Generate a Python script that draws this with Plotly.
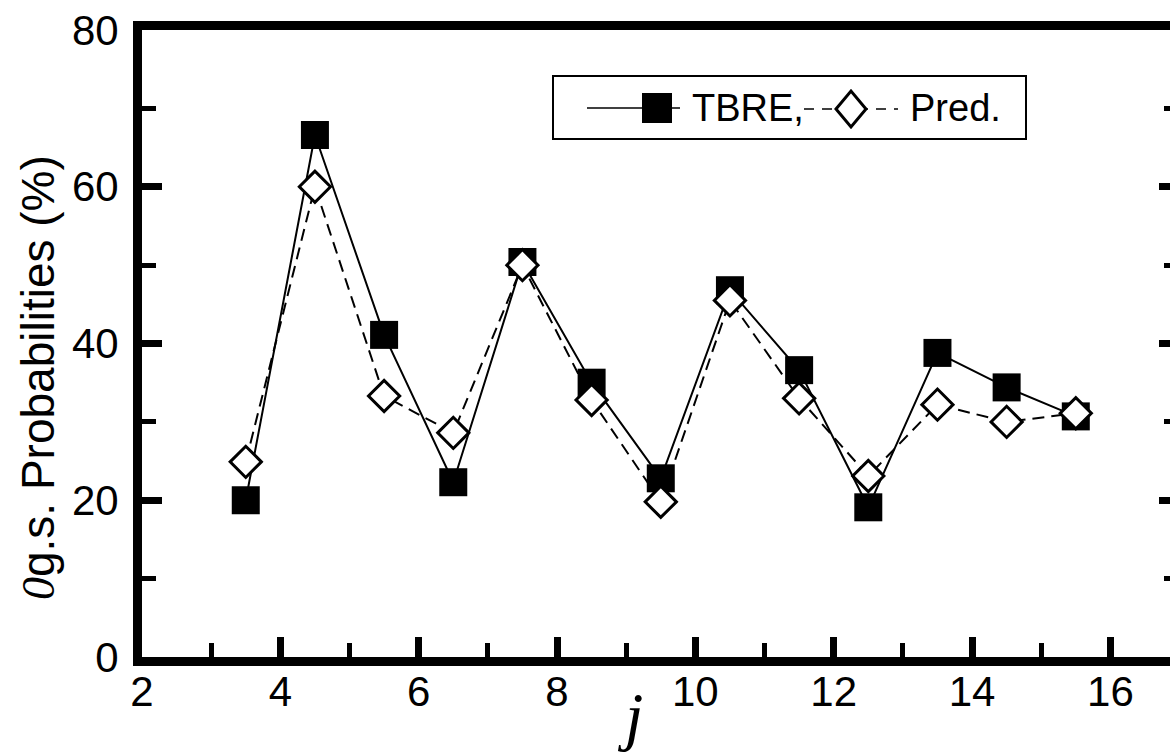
import plotly.graph_objects as go

# Angular momentum j and ground-state probabilities (%)
j_values = [3.5, 4.5, 5.5, 6.5, 7.5, 8.5, 9.5, 10.5, 11.5, 12.5, 13.5, 14.5, 15.5]
tbre_prob = [20.0, 66.6, 41.1, 22.3, 50.4, 35.0, 22.8, 46.8, 36.6, 19.1, 38.8, 34.4, 30.7]
pred_prob = [24.9, 60.0, 33.3, 28.6, 50.0, 32.8, 19.8, 45.5, 33.0, 23.1, 32.2, 30.0, 31.1]

x_major = [2, 4, 6, 8, 10, 12, 14, 16]
x_minor = [3, 5, 7, 9, 11, 13, 15]
y_major = [0, 20, 40, 60, 80]
y_minor = [10, 30, 50, 70]

series_names = ["TBRE,", "Pred."]
y_title = "<span style='font-family:Liberation Serif'><i>0</i></span>g.s. Probabilities (%)"
x_title = "<i>j</i>"

# figure geometry (pixels)
FIG_W, FIG_H = 1170, 756
M_L, M_R, M_T, M_B = 142, 0, 30, 99
PLOT_W = FIG_W - M_L - M_R
PLOT_H = FIG_H - M_T - M_B
PX_PER_UNIT = 69.17
X_MAX = 2 + PLOT_W / PX_PER_UNIT

SANS = "Liberation Sans, Arial, sans-serif"


def fx(p):
    return (p - M_L) / PLOT_W


def fy(p):
    return (FIG_H - M_B - p) / PLOT_H


fig = go.Figure()
fig.add_trace(go.Scatter(
    x=j_values, y=tbre_prob, name=series_names[0], mode="lines+markers",
    line=dict(color="black", width=2),
    marker=dict(symbol="square", size=28, color="black", line=dict(width=0)),
    showlegend=False,
))
fig.add_trace(go.Scatter(
    x=j_values, y=pred_prob, name=series_names[1], mode="lines+markers",
    line=dict(color="black", width=2, dash="12px,7px"),
    marker=dict(symbol="diamond", size=24, color="white", line=dict(color="black", width=3)),
    showlegend=False,
))
# transparent copy bound to the right-hand axis so its ticks are rendered
fig.add_trace(go.Scatter(
    x=j_values, y=tbre_prob, yaxis="y2", mode="lines", opacity=0,
    line=dict(width=0), hoverinfo="skip", showlegend=False,
))

axis_common = dict(
    showgrid=False, zeroline=False, ticks="inside", tickcolor="black",
    tickfont=dict(family=SANS, size=42, color="black"),
)

fig.update_layout(
    width=FIG_W, height=FIG_H,
    margin=dict(l=M_L, r=M_R, t=M_T, b=M_B),
    paper_bgcolor="white", plot_bgcolor="white",
    xaxis=dict(
        range=[2, X_MAX], tickvals=x_major, ticklen=20, tickwidth=7,
        showline=True, linewidth=9, linecolor="black", mirror=True,
        minor=dict(tickvals=x_minor, ticks="inside", ticklen=14, tickwidth=5, tickcolor="black"),
        ticklabelstandoff=-10,
        **axis_common,
    ),
    yaxis=dict(
        range=[0, 80], tickvals=y_major, ticklen=20, tickwidth=7,
        showline=True, linewidth=9, linecolor="black",
        minor=dict(tickvals=y_minor, ticks="inside", ticklen=14, tickwidth=5, tickcolor="black"),
        ticklabelstandoff=6,
        **axis_common,
    ),
    yaxis2=dict(
        range=[0, 80], overlaying="y", side="right", anchor="x",
        tickvals=y_major, ticklen=11, tickwidth=7, showticklabels=False, showline=False,
        minor=dict(tickvals=y_minor, ticks="inside", ticklen=6, tickwidth=5, tickcolor="black"),
        showgrid=False, zeroline=False, ticks="inside", tickcolor="black",
    ),
    showlegend=False,
)

# axis titles
fig.add_annotation(
    text=y_title, textangle=-90, xref="paper", yref="paper",
    x=fx(38), y=fy(378), xanchor="center", yanchor="middle", showarrow=False,
    font=dict(family=SANS, size=46, color="black"),
)
fig.add_annotation(
    text=x_title, xref="paper", yref="paper",
    x=fx(630), y=fy(715), xanchor="center", yanchor="middle", showarrow=False,
    font=dict(family="Liberation Serif, Times New Roman, serif", size=66, color="black"),
)

# legend box with line/marker samples
shapes = [
    dict(type="rect", xref="paper", yref="paper", x0=fx(553), x1=fx(1026), y0=fy(139), y1=fy(76),
         line=dict(color="black", width=2), fillcolor="white", layer="above"),
    dict(type="line", xref="paper", yref="paper", x0=fx(587), x1=fx(680), y0=fy(108), y1=fy(108),
         line=dict(color="black", width=1.5), layer="above"),
    dict(type="rect", xref="paper", yref="paper", x0=fx(642), x1=fx(672), y0=fy(123), y1=fy(93),
         line=dict(width=0), fillcolor="black", layer="above"),
    dict(type="line", xref="paper", yref="paper", x0=fx(804), x1=fx(898), y0=fy(109), y1=fy(109),
         line=dict(color="black", width=1.5, dash="10px,8px"), layer="above"),
]
cx, cy, hw, hh = 851, 109, 15, 18
diamond = "M {},{} L {},{} L {},{} L {},{} Z".format(
    fx(cx - hw), fy(cy), fx(cx), fy(cy - hh), fx(cx + hw), fy(cy), fx(cx), fy(cy + hh))
shapes.append(dict(type="path", xref="paper", yref="paper", path=diamond,
                   line=dict(color="black", width=3), fillcolor="white", layer="above"))
fig.update_layout(shapes=shapes)

for name, xpos in zip(series_names, [690, 908]):
    fig.add_annotation(
        text=name, xref="paper", yref="paper", x=fx(xpos), y=fy(108),
        xanchor="left", yanchor="middle", showarrow=False,
        font=dict(family=SANS, size=38, color="black"),
    )

fig.write_html("out.html")
